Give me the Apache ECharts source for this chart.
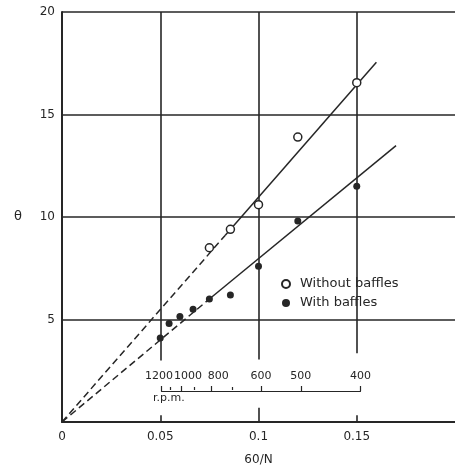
<!DOCTYPE html>
<html><head><meta charset="utf-8">
<script src="https://cdn.jsdelivr.net/npm/echarts@6/dist/echarts.min.js"></script>
<style>html,body{margin:0;padding:0;background:#fff}#c{width:455px;height:473px}</style>
</head><body><div id="c"></div>
<script>
// ---- data ----
const withoutX = [0.075, 0.0857, 0.1, 0.12, 0.15];
const withoutY = [8.5, 9.4, 10.6, 13.9, 16.55];
const withX = [0.05, 0.0545, 0.06, 0.0667, 0.075, 0.0857, 0.1, 0.12, 0.15];
const withY = [4.1, 4.8, 5.15, 5.5, 6.0, 6.2, 7.6, 9.8, 11.5];
const fitWithoutDashed = [[0, 0], [0.083, 9.1]];
const fitWithoutSolid = [[0.083, 9.1], [0.16, 17.55]];
const fitWithDashed = [[0, 0], [0.075, 6.0]];
const fitWithSolid = [[0.075, 6.0], [0.17, 13.48]];
const xTickValues = [0, 0.05, 0.1, 0.15];
const yTickValues = [5, 10, 15, 20];
const rpmMajor = [1200, 1000, 800, 600, 500, 400];
const rpmMinor = [1100, 900, 700];
const seriesNames = ['Without baffles', 'With baffles'];
const xName = '60/N', yName = 'θ', rpmName = 'r.p.m.';

const ink = '#262626';
const font = 'DejaVu Sans';
const zip = (a, b) => a.map((v, i) => [v, b[i]]);
const rpmShift = {1200: 'l', 1000: 'r', 800: 'r2'};

const vSeg = (x, y0, y1) => [{coord: [x, y0]}, {coord: [x, y1]}];

const chart = echarts.init(document.getElementById('c'));
chart.setOption({
  animation: false,
  backgroundColor: '#fff',
  grid: [
    {left: 62, top: 12, width: 398, height: 410},
    {left: 161.5, top: 390, width: 199, height: 1}
  ],
  xAxis: [
    {gridIndex: 0, type: 'value', min: 0, max: 0.2, interval: 0.05,
     axisLine: {show: true, lineStyle: {color: ink, width: 2}},
     axisTick: {show: false}, splitLine: {show: false},
     axisLabel: {color: ink, fontFamily: font, fontSize: 12, margin: 9, showMaxLabel: false},
     name: xName, nameLocation: 'middle', nameGap: 32,
     nameTextStyle: {color: ink, fontFamily: font, fontSize: 12}},
    {gridIndex: 1, type: 'value', position: 'top', min: 0.05, max: 0.15,
     axisLine: {show: true, lineStyle: {color: ink, width: 1.2}},
     axisTick: {show: true, length: 5, lineStyle: {color: ink, width: 1.2},
       customValues: rpmMajor.map(r => 60 / r)},
     axisLabel: {show: true, color: ink, fontFamily: font, fontSize: 11, margin: 8,
       customValues: rpmMajor.map(r => 60 / r),
       formatter: v => { const r = Math.round(60 / v); const k = rpmShift[r]; return k ? '{' + k + '|' + r + '}' : String(r); },
       rich: {l: {padding: [0, 5, 0, 0], fontFamily: font, fontSize: 11, color: ink},
              r: {padding: [0, 0, 0, 13], fontFamily: font, fontSize: 11, color: ink},
              r2: {padding: [0, 0, 0, 14], fontFamily: font, fontSize: 11, color: ink}}},
     splitLine: {show: false}},
    {gridIndex: 1, type: 'value', position: 'top', min: 0.05, max: 0.15,
     axisLine: {show: false},
     axisTick: {show: true, length: 3, lineStyle: {color: ink, width: 1.2},
       customValues: rpmMinor.map(r => 60 / r)},
     axisLabel: {show: false}, splitLine: {show: false}}
  ],
  yAxis: [
    {gridIndex: 0, type: 'value', min: 0, max: 20, interval: 5,
     axisLine: {show: true, lineStyle: {color: ink, width: 2}},
     axisTick: {show: false},
     splitLine: {show: true, lineStyle: {color: ink, width: 1.6}},
     axisLabel: {color: ink, fontFamily: font, fontSize: 12, margin: 7, showMinLabel: false},
     name: yName, nameLocation: 'middle', nameRotate: 0, nameGap: 40,
     nameTextStyle: {color: ink, fontFamily: font, fontSize: 13}},
    {gridIndex: 1, type: 'value', show: false, min: 0, max: 1}
  ],
  legend: {
    left: 281, top: 277, padding: 0, orient: 'vertical', itemGap: 5, itemWidth: 8, itemHeight: 8,
    data: seriesNames,
    textStyle: {color: ink, fontFamily: font, fontSize: 13, lineHeight: 14, padding: [0, 0, 0, 5]}
  },
  series: [
    {type: 'line', xAxisIndex: 0, yAxisIndex: 0, data: [], silent: true,
     markLine: {symbol: 'none', silent: true, label: {show: false},
       lineStyle: {color: ink, width: 1.6, type: 'solid'},
       data: [vSeg(0.05, 3.0, 20), vSeg(0.1, 3.05, 20), vSeg(0.15, 3.35, 20),
              vSeg(0.05, 0, 0.33), vSeg(0.1, 0, 0.7), vSeg(0.15, 0, 0.33)]}},
    {type: 'line', data: fitWithoutDashed, symbol: 'none', lineStyle: {color: ink, width: 1.5, type: [7, 4]}, z: 2},
    {type: 'line', data: fitWithoutSolid, symbol: 'none', lineStyle: {color: ink, width: 1.5}, z: 2},
    {type: 'line', data: fitWithDashed, symbol: 'none', lineStyle: {color: ink, width: 1.5, type: [7, 4]}, z: 2},
    {type: 'line', data: fitWithSolid, symbol: 'none', lineStyle: {color: ink, width: 1.5}, z: 2},
    {name: seriesNames[0], type: 'scatter', data: zip(withoutX, withoutY), symbol: 'circle', symbolSize: 8,
     itemStyle: {color: '#fff', borderColor: ink, borderWidth: 1.5, opacity: 1}, z: 5},
    {name: seriesNames[1], type: 'scatter', data: zip(withX, withY), symbol: 'circle', symbolSize: 7,
     itemStyle: {color: ink, opacity: 1}, z: 5}
  ],
  graphic: [
    {type: 'text', left: 153, top: 393, style: {text: rpmName, fill: ink, font: '11px "DejaVu Sans"'}}
  ]
});
</script></body></html>
